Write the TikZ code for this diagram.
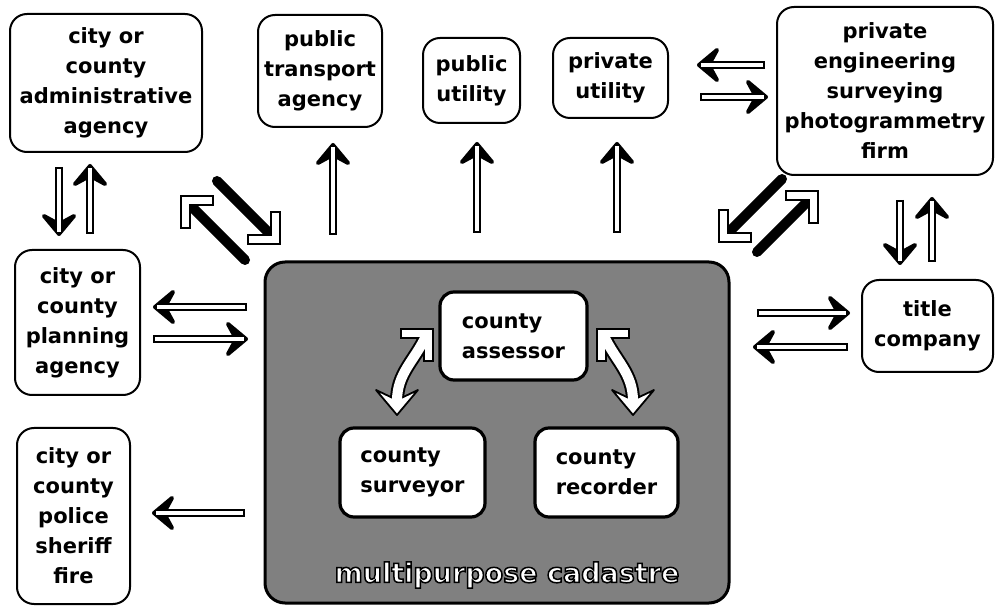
\documentclass[tikz,border=0pt]{standalone}
\usepackage{fontspec}
\setmainfont{DejaVu Sans}
\usetikzlibrary{arrows.meta}
\newcommand\diagfont{\bfseries\fontsize{21}{30}\selectfont}
\newcommand\cadfont{\bfseries\fontsize{27}{30}\selectfont}
% white letters stroked with a black outline
\newcommand\outlined[1]{\special{pdf:literal direct 2 Tr 0 0 0 RG 1.5 w}#1\special{pdf:literal direct 0 Tr}}
% straight outlined arrow: black-edged white shaft, solid black head
\newcommand\flowarrow[3]{%
  \draw[line width=8, shorten >=14] (#1) -- (#2);
  \pic[rotate=#3] at (#2) {bhead};
  \draw[white, line width=3.2, shorten <=2, shorten >=4] (#1) -- (#2);}
% slanted arrow: solid black shaft, hollow corner head
\newcommand\slantarrow[3]{%
  \draw[line width=10, line cap=round, shorten >=13] (#1) -- (#2);
  \pic[rotate=#3] at (#2) {lhead};}
\begin{document}
\begin{tikzpicture}[x=1pt, y=1pt,
  box/.style={draw=black, line width=2, rounded corners=17, fill=white, align=center, inner sep=0pt, font=\diagfont},
  inbox/.style={draw=black, line width=3.2, rounded corners=14, fill=white, align=left, inner sep=0pt, font=\diagfont},
  cad/.style={draw=black, line width=3, rounded corners=20, fill=black!50},
  bhead/.pic={\filldraw[fill=black, draw=black, line width=4, line join=round]
     (-2,0) -- (-20,15) -- (-14,4) -- (-14,-4) -- (-20,-15) -- cycle;},
  lhead/.pic={\filldraw[fill=white, draw=black, line width=1.8, line join=miter]
     (0,0) -- (-22.63,22.63) -- (-28.99,16.27) -- (-12.73,0) -- (-28.99,-16.27) -- (-22.63,-22.63) -- cycle;},
  whead/.pic={\filldraw[fill=white, draw=black, line width=1.8, line join=round]
     (0,0) -- (-25,21) -- (-15,0) -- (-25,-21) -- cycle;}
]
\useasboundingbox (0,0) rectangle (997,606);

% outer agencies
\node[box, minimum width=192, minimum height=138] (adm) at (106,523) {city or\\county\\administrative\\agency};
\node[box, minimum width=124, minimum height=112] (trans) at (320,535) {public\\transport\\agency};
\node[box, minimum width=97, minimum height=85] (pubu) at (471.5,525.5) {public\\utility};
\node[box, minimum width=115, minimum height=80] (privu) at (610.5,528) {private\\utility};
\node[box, minimum width=216, minimum height=168] (eng) at (885,515) {private\\engineering\\surveying\\photogrammetry\\firm};
\node[box, minimum width=125, minimum height=145] (plan) at (77.5,283.5) {city or\\county\\planning\\agency};
\node[box, minimum width=113, minimum height=176] (pol) at (73.5,90) {city or\\county\\police\\sheriff\\fire};
\node[box, minimum width=131, minimum height=92] (title) at (927.5,280) {title\\company};

% the cadastre and its offices
\node[cad, minimum width=464, minimum height=341] (cad) at (497,173.5) {};
\node[inbox, minimum width=147, minimum height=88] (asr) at (513.5,270) {county\\assessor};
\node[inbox, minimum width=145, minimum height=89] (srv) at (412.5,133.5) {county\\surveyor};
\node[inbox, minimum width=143, minimum height=89] (rec) at (606.5,133.5) {county\\recorder};
\node[font=\cadfont, text=white, inner sep=0pt] (lbl) at (507,31) {\outlined{multipurpose cadastre}};

% arrow end points
\coordinate (admA) at (59,439);  \coordinate (planA) at (59,370);
\coordinate (planB) at (90,372); \coordinate (admB) at (90,442);
\coordinate (trS) at (333,371);  \coordinate (trE) at (333,463);
\coordinate (puS) at (477,373);  \coordinate (puE) at (477,464);
\coordinate (prS) at (617,373);  \coordinate (prE) at (617,464);
\coordinate (engA) at (765,541); \coordinate (engAE) at (697,541);
\coordinate (engBS) at (700,509);\coordinate (engB) at (768,509);
\coordinate (engC) at (900,406); \coordinate (titC) at (900,341);
\coordinate (titD) at (932,344); \coordinate (engD) at (932,409);
\coordinate (cadT1) at (757,293);\coordinate (titT1) at (850,293);
\coordinate (titT2) at (848,259);\coordinate (cadT2) at (753,259);
\coordinate (cadP1) at (247,299);\coordinate (plnP1) at (153,299);
\coordinate (plnP2) at (153,267);\coordinate (cadP2) at (248,267);
\coordinate (cadF) at (245,93);  \coordinate (polF) at (152,93);
\coordinate (cadJ1) at (245,346);\coordinate (admJ1) at (181,410);
\coordinate (admJ2) at (217,425);\coordinate (cadJ2) at (280,362);
\coordinate (engK1) at (782,427);\coordinate (cadK1) at (719,364);
\coordinate (cadK2) at (757,354);\coordinate (engK2) at (818,415);

% straight arrows
\flowarrow{admA}{planA}{-90}
\flowarrow{planB}{admB}{90}
\flowarrow{trS}{trE}{90}
\flowarrow{puS}{puE}{90}
\flowarrow{prS}{prE}{90}
\flowarrow{engA}{engAE}{180}
\flowarrow{engBS}{engB}{0}
\flowarrow{engC}{titC}{-90}
\flowarrow{titD}{engD}{90}
\flowarrow{cadT1}{titT1}{0}
\flowarrow{titT2}{cadT2}{180}
\flowarrow{cadP1}{plnP1}{180}
\flowarrow{plnP2}{cadP2}{0}
\flowarrow{cadF}{polF}{180}

% slanted arrows
\slantarrow{cadJ1}{admJ1}{135}
\slantarrow{admJ2}{cadJ2}{-45}
\slantarrow{engK1}{cadK1}{-135}
\slantarrow{cadK2}{engK2}{45}

% curved white arrows between the county offices
\coordinate (asrL) at (433,277); \coordinate (asrLs) at (426,270);
\coordinate (srvE) at (397,205); \coordinate (srvT) at (397,191);
\coordinate (asrR) at (597,277); \coordinate (asrRs) at (604,270);
\coordinate (recE) at (633,205); \coordinate (recT) at (633,191);
\draw[line width=14] (asrLs) to[out=-115, in=90] (srvE);
\draw[line width=14] (asrRs) to[out=-65, in=90] (recE);
\pic[rotate=45] at (asrL) {lhead};
\pic[rotate=135] at (asrR) {lhead};
\pic[rotate=-90] at (srvT) {whead};
\pic[rotate=-90] at (recT) {whead};
\draw[white, line width=10] (asrLs) to[out=-115, in=90] (srvE);
\draw[white, line width=10] (asrRs) to[out=-65, in=90] (recE);
\end{tikzpicture}
\end{document}
